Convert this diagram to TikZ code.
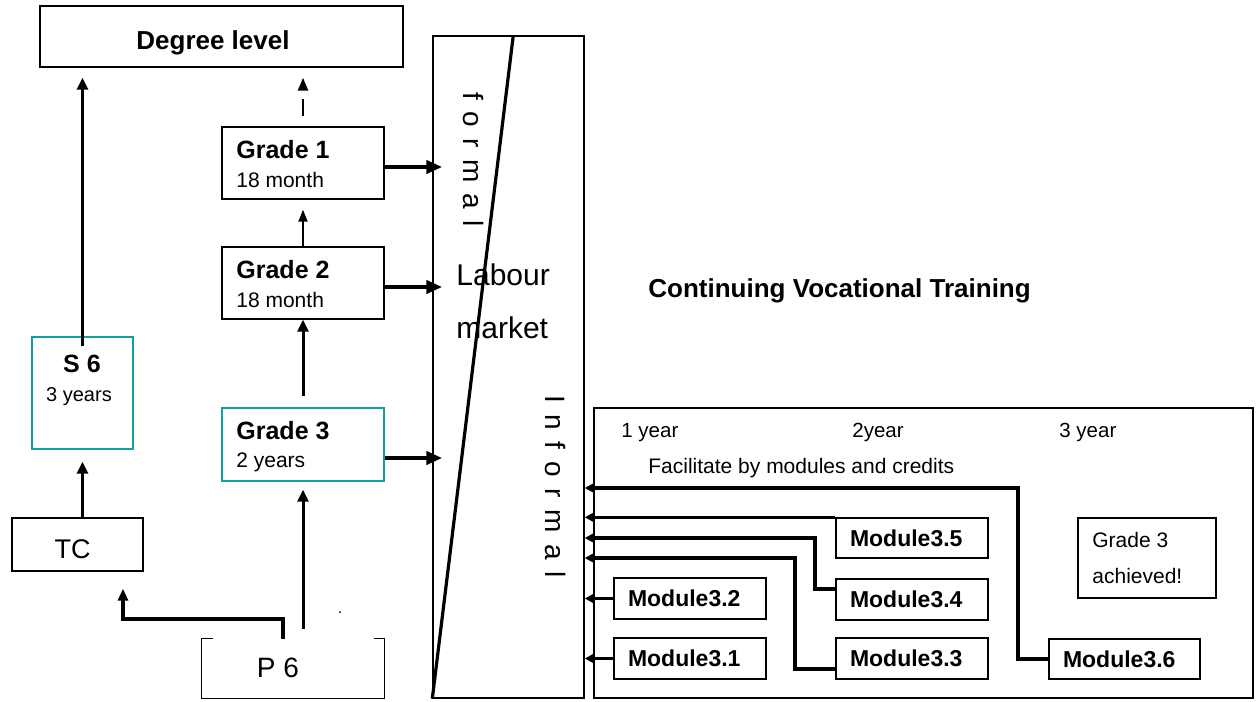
\documentclass[tikz,border=0pt]{standalone}
\usepackage{fontspec}
\setmainfont{Liberation Sans}
\usetikzlibrary{arrows.meta}
\definecolor{tealbox}{RGB}{20,158,158}
\newcommand\fsz[1]{\fontsize{#1}{#1}\selectfont}
\begin{document}
\begin{tikzpicture}[x=0.5pt,y=-0.5pt,
  box/.style={draw, line width=0.7pt, inner sep=0pt},
  tbox/.style={draw=tealbox, line width=0.7pt, inner sep=0pt},
  txt/.style={inner sep=0pt, anchor=base west},
  ctxt/.style={inner sep=0pt, anchor=base},
  modbox/.style={draw, line width=0.7pt, minimum width=76pt, minimum height=20.5pt, text width=62pt, inner xsep=7pt, inner ysep=0pt, align=left, font=\fsz{11.5}\bfseries},
  thinarrow/.style={line width=1pt, -{Triangle[length=6pt,width=4.5pt]}},
  thickarrow/.style={line width=1.5pt, -{Triangle[length=6pt,width=5.5pt]}},
  heavyarrow/.style={line width=2pt, -{Triangle[length=8pt,width=6.5pt]}},
  modarrow/.style={line width=1.75pt, -{Triangle[length=5pt,width=5pt]}},
]
\useasboundingbox (0,0) rectangle (1260,702);

% ---- left column boxes ----
\node[box, minimum width=181.5pt, minimum height=30.5pt] (deg) at (221.5,36.5) {};
\node[ctxt, font=\fsz{13}\bfseries] (degt) at (213,49) {Degree level};

\node[box, minimum width=81pt, minimum height=36pt] (g1) at (303,163) {};
\node[txt, font=\fsz{12.5}\bfseries] (g1a) at (236,158) {Grade 1};
\node[txt, font=\fsz{10.5}] (g1b) at (236,187) {18 month};

\node[box, minimum width=81pt, minimum height=36pt] (g2) at (303,283) {};
\node[txt, font=\fsz{12.5}\bfseries] (g2a) at (236,278) {Grade 2};
\node[txt, font=\fsz{10.5}] (g2b) at (236,307) {18 month};

\node[tbox, minimum width=81pt, minimum height=36.5pt] (g3) at (303,444.5) {};
\node[txt, font=\fsz{12.5}\bfseries] (g3a) at (236,439) {Grade 3};
\node[txt, font=\fsz{10.5}] (g3b) at (236,467) {2 years};

\node[tbox, minimum width=50.5pt, minimum height=56pt] (s6) at (82.5,393) {};
\node[ctxt, font=\fsz{12.5}\bfseries] (s6a) at (82,372) {S 6};
\node[ctxt, font=\fsz{10}] (s6b) at (79,401) {3 years};

\node[box, minimum width=65.5pt, minimum height=26.5pt] (tc) at (77.5,544.5) {};
\node[ctxt, font=\fsz{13.5}] (tct) at (72.5,558) {TC};

\node[inner sep=0pt, minimum width=91pt, minimum height=29.5pt] (p6) at (293,668.5) {};
\draw[line width=0.7pt] (p6.north west) ++(11,0) -- (p6.north west) -- (p6.south west) -- (p6.south east) -- (p6.north east) -- ++(-10,0);
\node[ctxt, font=\fsz{14}] (p6t) at (278,677) {P 6};
\node[ctxt, font=\fsz{8}] (dot) at (340,613) {.};

% ---- labour market ----
\node[box, minimum width=75.5pt, minimum height=331pt] (lab) at (508.5,367) {};
\draw[line width=1.6pt] (lab.north west) ++(81,0) -- (lab.south west);
\node[txt, rotate=-90, font=\fsz{14}] (formal) at (463,92) {\spaceskip=5.7pt\relax f o r m a l};
\node[txt, rotate=-90, font=\fsz{14}] (informal) at (545,395) {\spaceskip=5.8pt\relax I n f o r m a l};
\node[txt, font=\fsz{15}] (labt1) at (456,285) {Labour};
\node[txt, font=\fsz{15}] (labt2) at (456,338) {market};

% ---- continuing vocational training ----
\node[txt, font=\fsz{13}\bfseries] (cvtt) at (648,297) {Continuing Vocational Training};
\node[box, minimum width=329.5pt, minimum height=145pt] (cvt) at (923.5,553) {};
\node[txt, font=\fsz{10.25}] (y1) at (621,437) {1 year};
\node[txt, font=\fsz{10.25}] (y2) at (852,437) {2year};
\node[txt, font=\fsz{10.25}] (y3) at (1059,437) {3 year};
\node[txt, font=\fsz{10.5}] (fac) at (648,473) {Facilitate by modules and credits};

\node[modbox] (m32) at (690,598.5) {Module3.2};
\node[modbox] (m31) at (690,658.5) {Module3.1};
\node[modbox, minimum height=20pt] (m35) at (912,538) {Module3.5};
\node[modbox] (m34) at (912,599.5) {Module3.4};
\node[modbox] (m33) at (912,658.5) {Module3.3};
\node[modbox, minimum width=75.5pt, text width=61.5pt, minimum height=20pt] (m36) at (1124.5,659) {Module3.6};

\node[box, minimum width=69pt, minimum height=40pt] (ach) at (1147,558) {};
\node[txt, font=\fsz{10.5}] (acha) at (1092,547) {Grade 3};
\node[txt, font=\fsz{10.5}] (achb) at (1092,583) {achieved!};

% ---- connectors: left column ----
\draw[thickarrow, shorten <=-5pt, shorten >=5pt] (s6.north) -- (s6.north |- deg.south);
\draw[line width=1.25pt, dash pattern=on 8.5pt off 5pt, dash phase=8.5pt, -{Triangle[length=6.5pt,width=5pt]}, shorten >=5pt] (g1.north) -- (g1.north |- deg.south);
\draw[thinarrow, shorten >=5pt] (g2.north) -- (g1.south);
\draw[thickarrow, shorten <=5.5pt] (g3.north) -- (g2.south);
\draw[thickarrow, shorten <=5pt, shorten >=4pt] (g3.south |- p6.north) -- (g3.south);
\draw[thickarrow, shorten >=6pt] (s6.south |- tc.north) -- (s6.south);
\draw[line width=2pt, -{Triangle[length=6pt,width=5pt]}, shorten >=8.5pt] (p6.north -| 283,0) -- ++(0,-20) -| (tc.south -| 123,0);

% ---- connectors to labour market ----
\draw[heavyarrow, shorten >=-5pt] (g1.east |- 0,167) -- (lab.west |- 0,167);
\draw[heavyarrow, shorten >=-5pt] (g2.east |- 0,287) -- (lab.west |- 0,287);
\draw[heavyarrow, shorten >=-5pt] (g3.east |- 0,458) -- (lab.west |- 0,458);

% ---- module connectors ----
\draw[modarrow] (m36.west) -| (1018,488) -- (lab.east |- 0,488);
\draw[modarrow] (m35.north west) -- (m35.north west -| lab.east);
\draw[modarrow] (m34.west |- 0,589) -| (815,538) -- (lab.east |- 0,538);
\draw[modarrow] (m33.west |- 0,669) -| (795,558) -- (lab.east |- 0,558);
\draw[modarrow] (m32.west) -- (m32.west -| lab.east);
\draw[modarrow] (m31.west) -- (m31.west -| lab.east);
\end{tikzpicture}
\end{document}
